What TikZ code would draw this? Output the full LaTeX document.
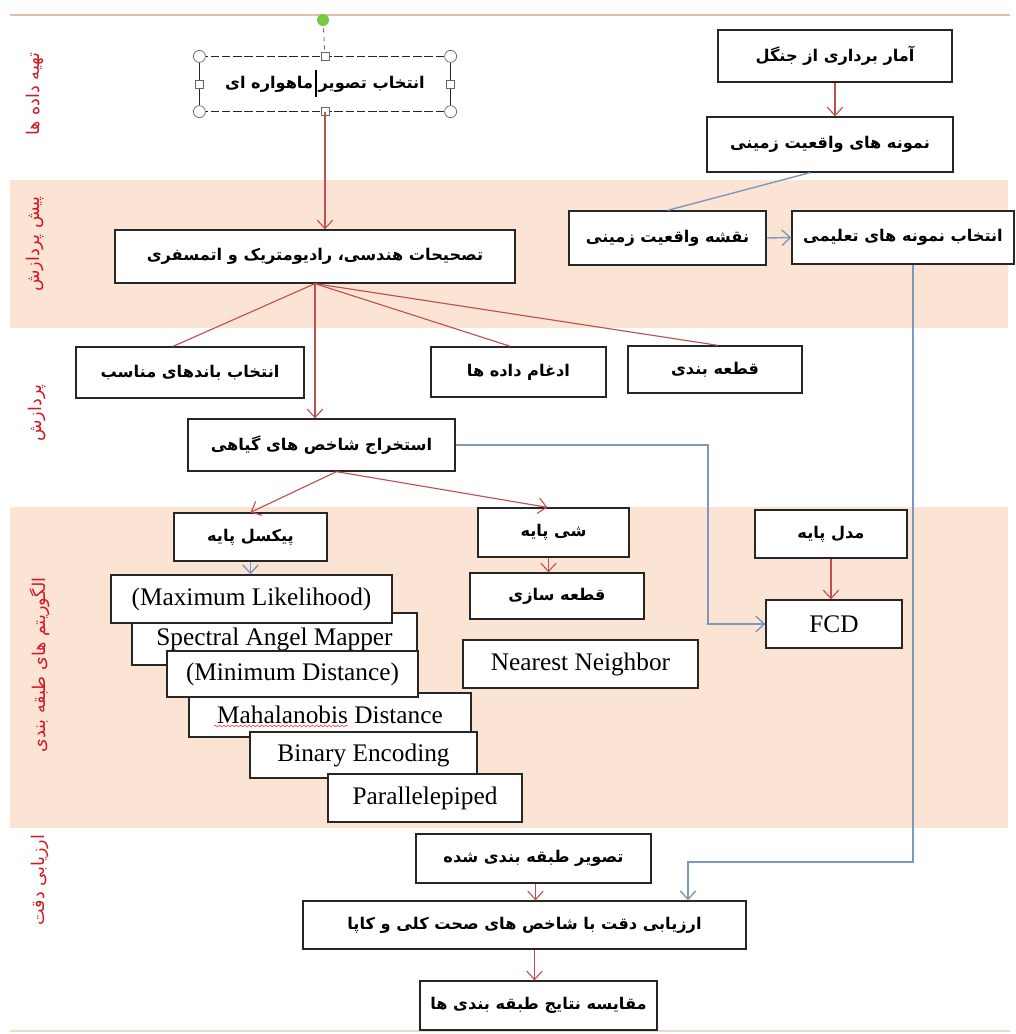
\documentclass[tikz,border=0pt]{standalone}
\usepackage{fontspec}
\setmainfont{Liberation Serif}
\newfontfamily\farsifont[Script=Arabic]{DejaVu Sans}
\TeXXeTstate=1
\usetikzlibrary{arrows.meta,calc,decorations.pathmorphing}

\definecolor{bandpeach}{RGB}{252,228,212}
\definecolor{linered}{RGB}{192,80,77}
\definecolor{lineblue}{RGB}{125,152,190}
\definecolor{rulebrown}{RGB}{228,190,162}
\definecolor{labelred}{RGB}{210,25,35}
\definecolor{handlegreen}{RGB}{120,200,70}

\newcommand{\fa}[1]{{\farsifont\beginR #1\endR}}

\tikzset{
    wh/.style 2 args={minimum width=#1*0.025cm, minimum height=#2*0.025cm},
    box/.style={draw=black!85, line width=0.9pt, fill=white, inner sep=0pt, font=\fontsize{11.5}{14}\selectfont\bfseries},
    latinbox/.style={box, font=\fontsize{18}{20}\selectfont},
    redarrow/.style={draw=linered, line width=0.8pt, -{Straight Barb[length=6pt,width=11pt]}},
    redline/.style={draw=linered, line width=0.8pt},
    bluearrow/.style={draw=lineblue, line width=1pt, -{Straight Barb[length=6pt,width=11pt]}},
    blueline/.style={draw=lineblue, line width=1pt},
    bandlabel/.style={rotate=90, text=labelred, font=\fontsize{12.5}{14}\selectfont},
    handle/.style={draw=black!60, fill=white, line width=0.5pt},
    handlesq/.style={handle, inner sep=0pt, minimum size=8*0.025cm}
}

\begin{document}
\begin{tikzpicture}[x=0.025cm,y=-0.025cm]
    \useasboundingbox (0,0) rectangle (1015,1034);

    % Bands
    \fill[bandpeach] (10,180) rectangle (1008,328);
    \fill[bandpeach] (10,507) rectangle (1008,828);
    \draw[rulebrown, line width=1pt] (10,15) -- (1010,15);
    \draw[rulebrown!60, line width=1pt] (10,1031) -- (1010,1031);

    % Band labels
    \node[bandlabel] (lab1) at (35,94) {\fa{تهیه داده ها}};
    \node[bandlabel] (lab2) at (35,244) {\fa{پیش پردازش}};
    \node[bandlabel] (lab3) at (37,413) {\fa{پردازش}};
    \node[bandlabel] (lab4) at (40,665) {\fa{الگوریتم های طبقه بندی}};
    \node[bandlabel] (lab5) at (40,880) {\fa{ارزیابی دقت}};

    % Data preparation
    \node[box, draw=none, wh={250}{54}] (sat) at (325,84) {\fa{انتخاب تصویر ماهواره ای}};
    \node[box, wh={234}{52}] (survey) at (835,56) {\fa{آمار برداری از جنگل}};
    \node[box, wh={246}{55}] (gtsamples) at (830,144.5) {\fa{نمونه های واقعیت زمینی}};

    % Pre-processing
    \node[box, wh={400}{53}] (corr) at (315,256.5) {\fa{تصحیحات هندسی، رادیومتریک و اتمسفری}};
    \node[box, wh={197}{54}] (gtmap) at (667.5,238) {\fa{نقشه واقعیت زمینی}};
    \node[box, wh={222}{53}] (train) at (903,237.5) {\fa{انتخاب نمونه های تعلیمی}};

    % Processing
    \node[box, wh={228}{51}] (bands) at (190,372.5) {\fa{انتخاب باندهای مناسب}};
    \node[box, wh={175}{50}] (fusion) at (518.5,372) {\fa{ادغام داده ها}};
    \node[box, wh={174}{47}] (seg) at (715,369.5) {\fa{قطعه بندی}};
    \node[box, wh={267}{52}] (veg) at (321.5,445) {\fa{استخراج شاخص های گیاهی}};

    % Classification
    \node[box, wh={153}{48}] (pixel) at (250.5,537) {\fa{پیکسل پایه}};
    \node[box, wh={151}{49}] (object) at (553.5,532.5) {\fa{شی پایه}};
    \node[box, wh={152}{48}] (model) at (831,534) {\fa{مدل پایه}};
    \node[box, wh={174}{46}] (segm) at (557,596) {\fa{قطعه سازی}};
    \node[latinbox, wh={136}{48}] (fcd) at (834,624) {FCD};
    \node[latinbox, wh={235}{48}] (nn) at (580.5,664) {Nearest Neighbor};

    \node[latinbox, wh={285}{52}] (sam) at (274.5,639) {Spectral Angel Mapper};
    \node[latinbox, wh={281}{48}] (ml) at (251.5,599) {(Maximum Likelihood)};
    \node[latinbox, wh={282}{44}] (mahal) at (330,715) {Mahalanobis Distance};
    \node[latinbox, wh={251}{46}] (mindist) at (292.5,674) {(Minimum Distance)};
    \node[latinbox, wh={227}{46}] (binenc) at (363.5,755) {Binary Encoding};
    \node[latinbox, wh={194}{48}] (para) at (425,798) {Parallelepiped};
    \draw[red!80, line width=0.4pt, decorate,
        decoration={snake, amplitude=0.6pt, segment length=3pt}] (214,726) -- (348,726);

    % Accuracy assessment
    \node[box, wh={235}{49}] (classimg) at (533.5,858.5) {\fa{تصویر طبقه بندی شده}};
    \node[box, wh={443}{48}] (accuracy) at (524.5,925) {\fa{ارزیابی دقت با شاخص های صحت کلی و کاپا}};
    \node[box, wh={237}{49}] (compare) at (538.5,1005.5) {\fa{مقایسه نتایج طبقه بندی ها}};

    % Selection frame round the satellite image box
    \draw[black!85, line width=0.9pt] (sat.north west) -- (sat.south west);
    \draw[black!85, line width=0.9pt] (sat.north east) -- (sat.south east);
    \draw[black!85, line width=0.8pt, dash pattern=on 6pt off 2pt] (sat.north west) -- (sat.north east);
    \draw[black!85, line width=0.8pt, dash pattern=on 6pt off 2pt] (sat.south west) -- (sat.south east);
    \coordinate (rot) at (323,20);
    \draw[black!60, dashed, line width=0.6pt] (rot) -- (sat.north);
    \fill[handlegreen] (rot) circle (6);
    \foreach \c in {north west, north east, south west, south east}
        \draw[handle] (sat.\c) circle (6);
    \foreach \c in {north, south, east, west}
        \node[handlesq] at (sat.\c) {};
    \draw[black, line width=1.3pt] (316,70) -- (316,97);

    % Red connectors
    \draw[redarrow] (sat.south) -- (sat.south |- corr.north);
    \draw[redarrow] (survey.south) -- (survey.south |- gtsamples.north);
    \coordinate (corrout) at (corr.south);
    \draw[redline] (corrout) -- ([xshift=-17*0.025cm]bands.north);
    \draw[redline] (corrout) -- ([xshift=-8*0.025cm]fusion.north);
    \draw[redline] (corrout) -- ([xshift=3*0.025cm]seg.north);
    \draw[redarrow] (corrout) -- (corrout |- veg.north);
    \coordinate (vegout) at ([xshift=15*0.025cm]veg.south);
    \draw[redarrow] (vegout) -- (pixel.north);
    \draw[redarrow] (vegout) -- ([xshift=-6*0.025cm]object.north);
    \draw[redarrow] ([xshift=-5*0.025cm]object.south) -- ([xshift=-5*0.025cm]object.south |- segm.north);
    \draw[redarrow] (model.south) -- (model.south |- fcd.north);
    \draw[redarrow] ([xshift=2*0.025cm]classimg.south) -- ([xshift=2*0.025cm]classimg.south |- accuracy.north);
    \draw[redarrow] ([xshift=10*0.025cm]accuracy.south) -- ([xshift=10*0.025cm]accuracy.south |- compare.north);

    % Blue connectors
    \draw[blueline] ([xshift=-20*0.025cm]gtsamples.south) -- (gtmap.north);
    \draw[bluearrow] (gtmap.east) -- (train.west);
    \coordinate (trainout) at ([xshift=10*0.025cm]train.south);
    \coordinate (bend) at (688,862);
    \draw[bluearrow] (trainout) |- (bend) -- (bend |- accuracy.north);
    \coordinate (vegturn) at (708,624);
    \draw[bluearrow] (veg.east) -| (vegturn) -- (fcd.west);
    \draw[bluearrow] (pixel.south) -- (pixel.south |- ml.north);
\end{tikzpicture}
\end{document}
